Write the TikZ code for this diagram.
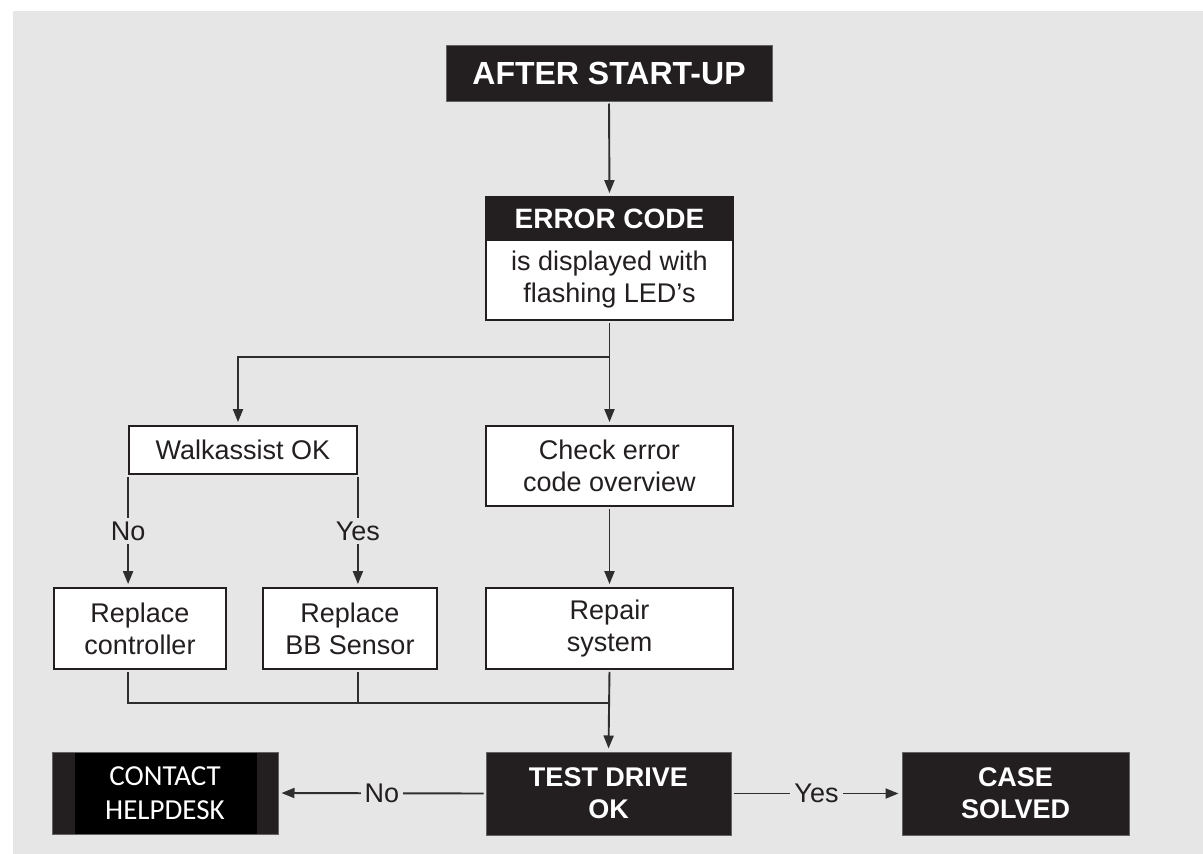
\documentclass[tikz,border=0pt]{standalone}
\usepackage{fontspec}
\setmainfont{Liberation Sans}
\newfontfamily\calfont{Carlito}
\usetikzlibrary{arrows.meta,calc}
\definecolor{bg}{HTML}{E6E6E6}
\definecolor{ink}{HTML}{231F20}
\definecolor{wire}{HTML}{2E2E2E}
\begin{document}
\begin{tikzpicture}[x=1pt,y=-1pt,
  wbox/.style={draw=ink, line width=1.8pt, fill=white, text=ink, inner sep=0pt, align=center,
    font=\fontsize{27}{32}\selectfont},
  bbox/.style={draw=ink!70, line width=1pt, fill=ink, text=white, inner sep=0pt, align=center,
    font=\fontsize{27}{32}\selectfont\bfseries},
  conn/.style={draw=wire, line width=1.9pt, shorten <=2pt},
  arr/.style={conn, -{Triangle[length=13pt,width=10pt]}, shorten >=3pt},
  lbl/.style={fill=bg, inner sep=4pt, text=ink, font=\fontsize{27}{32}\selectfont}]
\useasboundingbox (0,0) rectangle (1203,854);
\fill[white] (0,0) rectangle (1203,854);
\fill[bg] (13,11) rectangle (1203,854);

% nodes
\node[bbox, minimum width=326, minimum height=56, font=\fontsize{32}{36}\selectfont\bfseries] (start) at (609,73) {AFTER START-UP};
\node[wbox, minimum width=247, minimum height=80] (errbody) at (609.5,280) {is displayed with\\flashing LED's};
\node[bbox, draw=ink, line width=1.8pt, minimum width=247, minimum height=43, font=\fontsize{28}{32}\selectfont\bfseries] (errhead) at (609.5,218.5) {ERROR CODE};
\node[wbox, minimum width=228, minimum height=48] (walk) at (243,450) {Walkassist OK};
\node[wbox, minimum width=247, minimum height=80] (check) at (609.5,466) {Check error\\code overview};
\node[wbox, minimum width=172, minimum height=81] (rc) at (140,628.5) {Replace\\controller};
\node[wbox, minimum width=174, minimum height=81] (bb) at (350,628.5) {Replace\\BB Sensor};
\node[wbox, minimum width=247, minimum height=81] (repair) at (609.5,628.5) {Repair\\system};
\node[bbox, minimum width=245, minimum height=83] (test) at (608.5,793.5) {TEST DRIVE\\OK};
\node[bbox, minimum width=227, minimum height=83] (case) at (1015.5,793.5) {CASE\\SOLVED};
\node[bbox, minimum width=226, minimum height=82,
  font=\calfont\fontsize{29}{34}\selectfont,
  path picture={\fill[black] ([xshift=23pt]path picture bounding box.south west) rectangle ([xshift=-21pt]path picture bounding box.north east);}]
  (contact) at (165,793) {CONTACT\\HELPDESK};

% connectors
\coordinate (split) at (609.5,357);
\coordinate (merge) at (609.5,703);
\draw[arr] (start.south) -- (errhead.north);
\draw[arr] (errbody.south) -- (check.north);
\draw[arr, shorten <=0pt] (split) -| ($(walk.north)+(-5,0)$);
\draw[arr] (walk.south west) -- node[lbl]{No} (walk.south west |- rc.north);
\draw[arr] (walk.south east) -- node[lbl]{Yes} (walk.south east |- bb.north);
\draw[arr] (check.south) -- (repair.north);
\draw[conn] (rc.south -| walk.south west) |- (merge);
\draw[conn] (bb.south -| walk.south east) -- (walk.south east |- merge);
\draw[arr] (repair.south) -- (test.north);
\draw[arr] (test.west) -- node[lbl]{No} (contact.east);
\draw[arr] (test.east) -- node[lbl]{Yes} (case.west);
\end{tikzpicture}
\end{document}
